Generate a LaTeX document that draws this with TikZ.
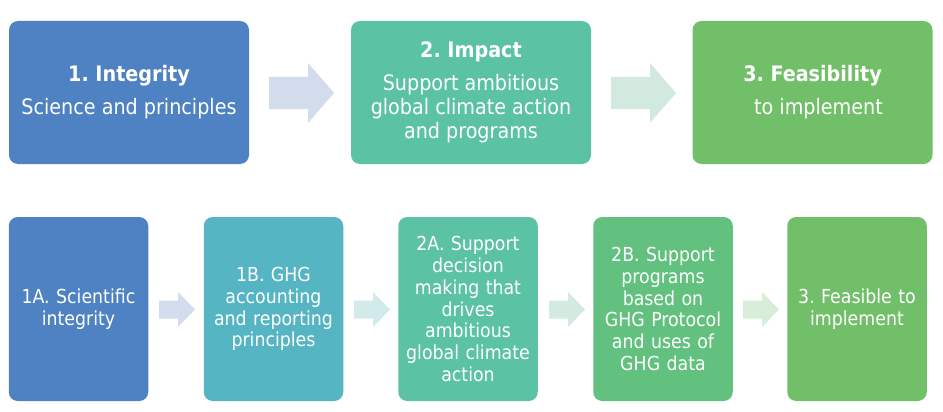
\documentclass[tikz,border=0pt]{standalone}
\usepackage{fontspec}
\setmainfont{DejaVu Sans Condensed}
\frenchspacing
\definecolor{cBlue}{HTML}{4F82C3}
\definecolor{cTeal}{HTML}{5BC3A4}
\definecolor{cGreen}{HTML}{72BF6A}
\definecolor{cTealBlue}{HTML}{56B5C3}
\definecolor{cMidGreen}{HTML}{62C17E}
\definecolor{aBlue}{HTML}{D3DCEC}
\definecolor{aTeal}{HTML}{D2E9E0}
\definecolor{aCyan}{HTML}{D3EAEA}
\definecolor{aMint}{HTML}{D3EAE0}
\definecolor{aGreen}{HTML}{D8EDD8}
\newcommand\blkarrow[7]{%
  \fill[#1] (#2,{#4-#6}) -- ({#3-#7},{#4-#6}) -- ({#3-#7},{#4-#5}) -- (#3,#4)
    -- ({#3-#7},{#4+#5}) -- ({#3-#7},{#4+#6}) -- (#2,{#4+#6}) -- cycle;}
\tikzset{
  topbox/.style={rectangle, rounded corners=9pt, minimum width=240pt, minimum height=143pt,
    inner sep=0pt, text=white, align=center, font=\fontsize{21.3}{24}\selectfont},
  botbox/.style={rectangle, rounded corners=9pt, minimum width=139.5pt, minimum height=184pt,
    inner sep=0pt, text=white, align=center, text width=137pt, font=\fontsize{19.3}{21.8}\selectfont},
}
\begin{document}
\begin{tikzpicture}[x=1pt,y=-1pt]
\useasboundingbox (0,0) rectangle (943,412);
% top row
\node[topbox, fill=cBlue] (t1) at (129,92.5) {{\bfseries 1. Integrity}\\[9pt]Science and principles};
\node[topbox, fill=cTeal] (t2) at (471,92.5) {{\bfseries 2. Impact}\\[9pt]Support ambitious\\global climate action\\and programs};
\node[topbox, fill=cGreen] (t3) at (812.5,92.5) {{\bfseries 3. Feasibility}\\[9pt]\hspace*{12pt}to implement};
\blkarrow{aBlue}{269}{334}{93}{30}{16}{26}
\blkarrow{aTeal}{611}{676}{93}{30}{16}{26}
% bottom row
\node[botbox, fill=cBlue] (b1) at (78.5,309) {1A. Scientific\\integrity};
\node[botbox, fill=cTealBlue] (b2) at (273.5,309) {1B. GHG\\accounting\\and reporting\\principles};
\node[botbox, fill=cTeal] (b3) at (468,309) {2A. Support\\decision\\making that\\drives\\ambitious\\global climate\\action};
\node[botbox, fill=cMidGreen] (b4) at (663,309) {2B. Support\\programs\\based on\\GHG Protocol\\and uses of\\GHG data};
\node[botbox, fill=cGreen] (b5) at (857,309) {3. Feasible to\\implement};
\blkarrow{aBlue}{159}{195}{309.5}{17.5}{9}{17}
\blkarrow{aCyan}{354}{390}{309.5}{17.5}{9}{17}
\blkarrow{aMint}{549}{585}{309.5}{17.5}{9}{17}
\blkarrow{aGreen}{743}{779}{309.5}{17.5}{9}{17}
\end{tikzpicture}
\end{document}
